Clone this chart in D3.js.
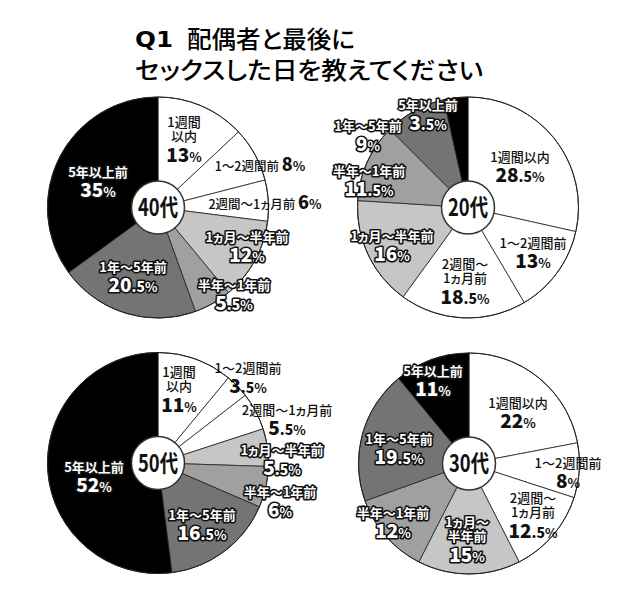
<!DOCTYPE html>
<html>
<head>
<meta charset="utf-8">
<script src="https://cdn.jsdelivr.net/npm/d3@7"></script>
<style>
  body { margin: 0; background: #fff; }
  svg text { font-family: "Noto Sans CJK JP", "Noto Sans", sans-serif; font-feature-settings: "palt"; }
</style>
</head>
<body>
<svg id="chart"></svg>
<script>
// データ
const categories = ["1週間以内", "1～2週間前", "2週間～1ヵ月前", "1ヵ月～半年前", "半年～1年前", "1年～5年前", "5年以上前"];
const groups = ["40代", "20代", "50代", "30代"];
const values40 = [13, 8, 6, 12, 5.5, 20.5, 35];
const values20 = [28.5, 13, 18.5, 16, 11.5, 9, 3.5];
const values50 = [11, 3.5, 5.5, 5.5, 6, 16.5, 52];
const values30 = [22, 8, 12.5, 15, 12, 19.5, 11];

const width = 640, height = 610;
const R = 110.5;
const fills = ["#fff", "#fff", "#fff", "#c6c6c6", "#a0a0a0", "#747474", "#000"];
// 0-2: 黒文字, 3-6: 白文字+黒フチ
const textStyle = ["dark", "dark", "dark", "outline", "outline", "outline", "outline"];

// ラベル配置 (中心からのずれ, 改行位置, 1行表示)
const layouts = [
  { cx: 158, cy: 207.5, values: values40, labels: [
    { dx: 26, dy: -69, brk: 3 }, { dx: 102, dy: -43, inline: true }, { dx: 107, dy: -5, inline: true },
    { dx: 89, dy: 38 }, { dx: 76, dy: 86 }, { dx: -25, dy: 68 }, { dx: -60, dy: -27 }] },
  { cx: 468, cy: 207.5, values: values20, labels: [
    { dx: 52, dy: -42 }, { dx: 65, dy: 44 }, { dx: -3, dy: 73, brk: 4 },
    { dx: -76, dy: 37 }, { dx: -99, dy: -28 }, { dx: -100, dy: -73 }, { dx: -40, dy: -94 }] },
  { cx: 158, cy: 463, values: values50, labels: [
    { dx: 21, dy: -74, brk: 3 }, { dx: 90, dy: -86 }, { dx: 129, dy: -44 },
    { dx: 124, dy: -4 }, { dx: 122, dy: 38 }, { dx: 44, dy: 61 }, { dx: -64, dy: 13 }] },
  { cx: 469, cy: 463.5, values: values30, labels: [
    { dx: 49, dy: -52 }, { dx: 99, dy: 8 }, { dx: 64, dy: 51, brk: 4 },
    { dx: -2, dy: 75, brk: 4 }, { dx: -76, dy: 58 }, { dx: -70, dy: -16 }, { dx: -36, dy: -84 }] }
];

const svg = d3.select("#chart").attr("width", width).attr("height", height);

// タイトル
svg.append("text").attr("x", 135).attr("y", 47)
  .attr("textLength", 38).attr("lengthAdjust", "spacingAndGlyphs")
  .style("font-family", "'DejaVu Sans', sans-serif").style("font-weight", 900).style("font-size", "21px")
  .text("Q1");
svg.append("text").attr("x", 187).attr("y", 47.5)
  .attr("textLength", 168).attr("lengthAdjust", "spacingAndGlyphs")
  .style("font-size", "23.5px").style("font-weight", 500)
  .text("配偶者と最後に");
svg.append("text").attr("x", 135).attr("y", 78.5)
  .attr("textLength", 348).attr("lengthAdjust", "spacingAndGlyphs")
  .style("font-size", "23.5px").style("font-weight", 500)
  .text("セックスした日を教えてください");

const pie = d3.pie().sort(null).value(d => d);
const arc = d3.arc().innerRadius(0).outerRadius(R);

function addPct(text, v, big) {
  const [ip, dp] = String(v).split(".");
  text.append("tspan").style("font-size", big + "px").style("font-weight", 900).text(ip);
  if (dp) text.append("tspan").style("font-size", "14px").style("font-weight", 900).text("." + dp);
  text.append("tspan").style("font-size", "13px").style("font-weight", 700).text("%");
}

function styleText(t, kind) {
  if (kind === "dark") {
    t.attr("fill", "#111");
  } else {
    t.attr("fill", "#fff").attr("stroke", "#111").attr("stroke-width", 3.2)
      .attr("stroke-linejoin", "round").style("paint-order", "stroke");
  }
}

layouts.forEach((L, gi) => {
  const g = svg.append("g").attr("transform", `translate(${L.cx},${L.cy})`);
  const arcs = pie(L.values);

  g.selectAll("path.slice")
    .data(arcs)
    .enter().append("path")
    .attr("class", "slice")
    .attr("d", arc)
    .attr("fill", (d, i) => fills[i])
    .attr("stroke", "#222")
    .attr("stroke-width", 0.8);

  g.append("circle").attr("r", R).attr("fill", "none").attr("stroke", "#222").attr("stroke-width", 1);

  // ラベル
  arcs.forEach((d, i) => {
    const lab = L.labels[i];
    const name = categories[i];
    const lg = g.append("g").attr("transform", `translate(${lab.dx},${lab.dy})`);
    const kind = textStyle[i];
    if (lab.inline) {
      const t = lg.append("text").attr("text-anchor", "middle").attr("y", 6);
      t.append("tspan").style("font-size", "12.5px").style("font-weight", 500).text(name + " ");
      addPct(t, d.data, 18);
      styleText(t, kind);
      return;
    }
    const nameLines = lab.brk ? [name.slice(0, lab.brk), name.slice(lab.brk)] : [name];
    const ys = nameLines.length === 2 ? [-17, -3, 16] : [-9, 9];
    nameLines.forEach((s, k) => {
      const t = lg.append("text").attr("text-anchor", "middle").attr("y", ys[k] + 5)
        .style("font-size", "13px").style("font-weight", kind === "outline" ? 700 : 500)
        .text(s);
      styleText(t, kind);
    });
    const pt = lg.append("text").attr("text-anchor", "middle").attr("y", ys[ys.length - 1] + 7);
    addPct(pt, d.data, 19);
    styleText(pt, kind);
  });

  // 中央の円
  g.append("circle").attr("r", 26.5).attr("fill", "#fff").attr("stroke", "#333").attr("stroke-width", 1.5);
  g.append("text").attr("text-anchor", "middle").attr("y", 8.5)
    .attr("textLength", 40).attr("lengthAdjust", "spacingAndGlyphs")
    .style("font-size", "24px").style("font-weight", 700).attr("fill", "#111")
    .text(groups[gi]);
});
</script>
</body>
</html>
